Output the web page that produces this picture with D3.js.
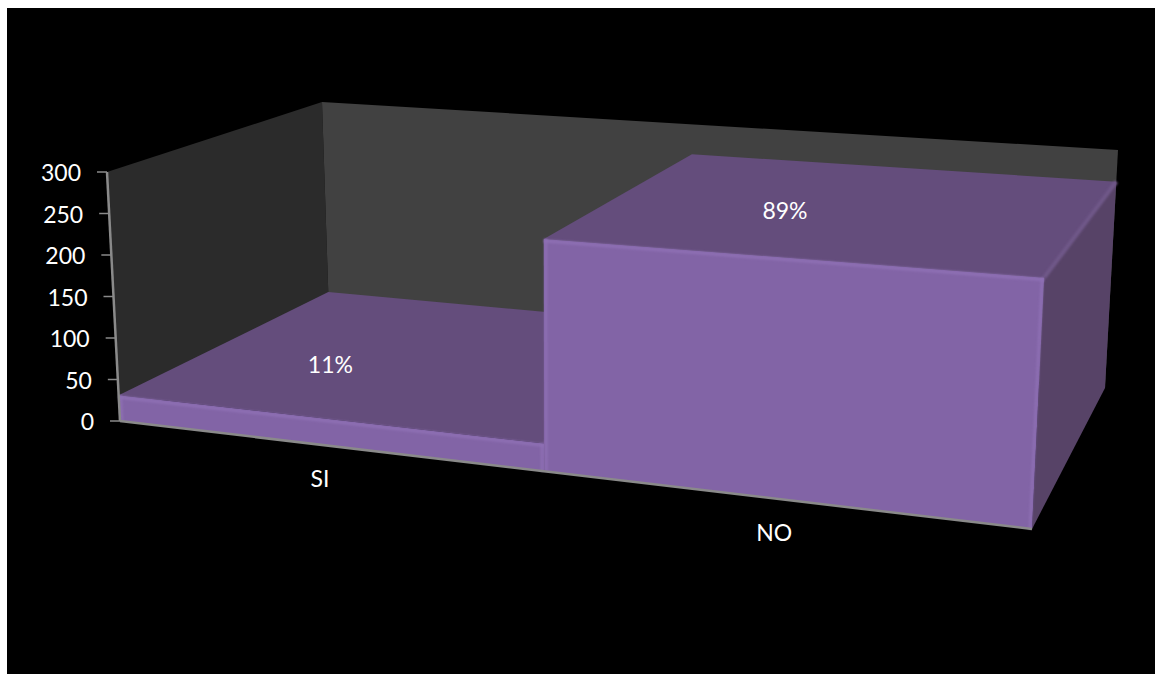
<!DOCTYPE html>
<html>
<head>
<meta charset="utf-8">
<script src="https://cdnjs.cloudflare.com/ajax/libs/d3/7.8.5/d3.min.js"></script>
<style>
html,body{margin:0;padding:0;background:#fff;}
svg{display:block;}
text{font-family:Lato,"Open Sans",sans-serif;fill:#fff;font-size:23px;}
</style>
</head>
<body>
<svg id="chart" width="1155" height="674"></svg>
<script>
// Survey answers and the value axis
const categories = ["SI", "NO"];
const values = [31, 260];
const percentLabels = ["11%", "89%"];
const yTicks = [0, 50, 100, 150, 200, 250, 300];

const svg = d3.select("#chart");
svg.append("rect").attr("x", 7).attr("y", 8).attr("width", 1148).attr("height", 666).attr("fill", "#000");

// Soft highlight used for the bevelled bar edges
svg.append("defs").append("filter").attr("id", "soft")
  .attr("filterUnits", "userSpaceOnUse").attr("x", 0).attr("y", 0).attr("width", 1155).attr("height", 674)
  .append("feGaussianBlur").attr("stdDeviation", 0.9);

// Scales work in the unit box of the 3D plot: category, value, depth
const xBand = d3.scaleBand().domain(categories).range([0, 1]).padding(0);
const yScale = d3.scaleLinear().domain([0, 300]).range([0, 1]);

// The eight corners of the plot box as they appear in the oblique view
const corners = {
  "000": [120, 421], "100": [1032, 529], "010": [107, 172], "110": [1046, 239],
  "001": [329, 314], "101": [1105, 388], "011": [322, 102], "111": [1118, 150]
};
const foreshorten = 1.15;   // the far end of the category axis is compressed
const lerp = (a, b, t) => [a[0] + (b[0] - a[0]) * t, a[1] + (b[1] - a[1]) * t];
function project(u, v, w) {
  const p = u / (u + foreshorten * (1 - u));
  const c = k => corners[k];
  const front = lerp(lerp(c("000"), c("100"), p), lerp(c("010"), c("110"), p), v);
  const back = lerp(lerp(c("001"), c("101"), p), lerp(c("011"), c("111"), p), v);
  return lerp(front, back, w);
}
const poly = pts => "M" + pts.map(p => p.join(",")).join("L") + "Z";

// Side and back walls
svg.append("path").attr("fill", "#2b2b2b")
  .attr("d", poly([project(0,1,0), project(0,1,1), project(0,0,1), project(0,0,0)]));
svg.append("path").attr("fill", "#414141")
  .attr("d", poly([project(0,1,1), project(1,1,1), project(1,0,1), project(0,0,1)]));

// Bars, left to right so the taller one covers the first
const COLORS = { front: "#8264a6", top: "#644d7c", side: "#574367", edgeFront: "#8e6fb4", edgeTop: "#705889" };
const barGroup = svg.append("g");
categories.forEach((cat, i) => {
  const u0 = xBand(cat), u1 = u0 + xBand.bandwidth(), v = yScale(values[i]);
  const g = barGroup.append("g");
  const face = (pts, color) => g.append("path").attr("fill", color).attr("d", poly(pts));
  face([project(u1,v,0), project(u1,v,1), project(u1,0,1), project(u1,0,0)], COLORS.side);
  face([project(u0,v,0), project(u1,v,0), project(u1,v,1), project(u0,v,1)], COLORS.top);
  // Bevels sit between the faces, blurred so they read as rounded edges
  const edge = (a, b, color, width) => g.append("line")
    .attr("x1", a[0]).attr("y1", a[1]).attr("x2", b[0]).attr("y2", b[1])
    .attr("stroke", color).attr("stroke-width", width).attr("filter", "url(#soft)");
  edge(project(u1,v,0), project(u1,v,1), COLORS.edgeTop, 4);
  face([project(u0,v,0), project(u1,v,0), project(u1,0,0), project(u0,0,0)], COLORS.front);
  const inset = 2;
  const shift = (p, dx, dy) => [p[0] + dx, p[1] + dy];
  edge(shift(project(u0,v,0), 0, inset), shift(project(u1,v,0), 0, inset), COLORS.edgeFront, 3);
  edge(shift(project(u1,v,0), -inset, 0), shift(project(u1,0,0), -inset, 0), COLORS.edgeFront, 2.5);
  edge(shift(project(u0,v,0), inset, 0), shift(project(u0,0,0), inset, 0), COLORS.edgeFront, 2.5);
});

// Axis lines
const axisColor = "#8a8a8a";
const axisLine = (a, b) => svg.append("line")
  .attr("x1", a[0]).attr("y1", a[1]).attr("x2", b[0]).attr("y2", b[1])
  .attr("stroke", axisColor).attr("stroke-width", 2.5);
axisLine(project(0,0,0), project(0,1,0));
axisLine(project(0,0,0), project(1,0,0));

// Value ticks and labels
yTicks.forEach(t => {
  const p = project(0, yScale(t), 0);
  svg.append("line").attr("x1", p[0] - 10).attr("x2", p[0]).attr("y1", p[1]).attr("y2", p[1])
    .attr("stroke", axisColor).attr("stroke-width", 1.5);
  svg.append("text").attr("x", p[0] - 26).attr("y", p[1] + 9).attr("text-anchor", "end").text(t);
});

// Category names below the floor, percentages floating over each bar
categories.forEach((cat, i) => {
  const uc = xBand(cat) + xBand.bandwidth() / 2;
  const base = project(uc, 0, 0);
  svg.append("text").attr("x", base[0] - 5).attr("y", base[1] + 42).attr("text-anchor", "middle").text(cat);
  const v = yScale(values[i]);
  const top = project(uc, v, 0);
  svg.append("text").attr("x", top[0] + 7 - 8 * v).attr("y", top[1] - 46 + 8 * v).attr("text-anchor", "middle").text(percentLabels[i]);
});
</script>
</body>
</html>
